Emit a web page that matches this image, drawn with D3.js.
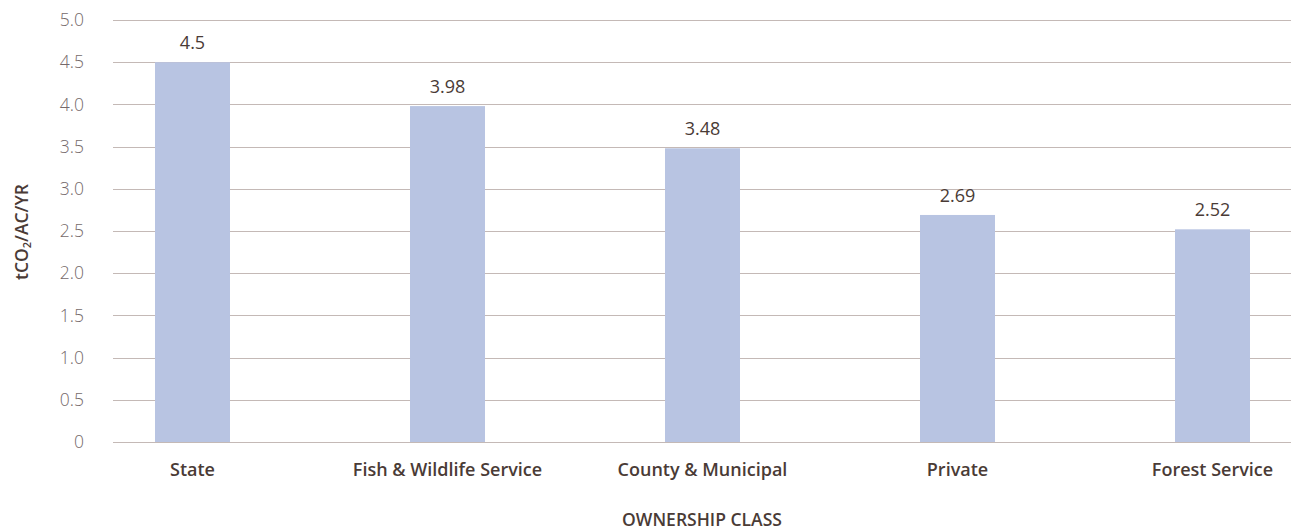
<!DOCTYPE html>
<html>
<head>
<meta charset="utf-8">
<script src="https://cdn.jsdelivr.net/npm/d3@7"></script>
<style>
  body { margin: 0; background: #fff; }
  text { font-family: "Open Sans", sans-serif; }
</style>
</head>
<body>
<svg id="main" width="1291" height="532"></svg>
<script>
const categories = ["State", "Fish & Wildlife Service", "County & Municipal", "Private", "Forest Service"];
const values = [4.5, 3.98, 3.48, 2.69, 2.52];
const valueLabels = ["4.5", "3.98", "3.48", "2.69", "2.52"];
const yTicks = [0, 0.5, 1.0, 1.5, 2.0, 2.5, 3.0, 3.5, 4.0, 4.5, 5.0];
const yTickLabels = ["0", "0.5", "1.0", "1.5", "2.0", "2.5", "3.0", "3.5", "4.0", "4.5", "5.0"];

const svg = d3.select("#main");
const gridLeft = 113, gridRight = 1291;

const x = d3.scaleBand().domain(categories).range([65, 1340]).paddingInner(0.706).paddingOuter(0.353);
const y = d3.scaleLinear().domain([0, 5]).range([442, 20]);

// gridlines
svg.append("g").selectAll("line")
  .data(yTicks)
  .join("line")
  .attr("x1", gridLeft).attr("x2", gridRight)
  .attr("y1", d => Math.round(y(d)) + 0.5).attr("y2", d => Math.round(y(d)) + 0.5)
  .attr("stroke", "#c4b9b6").attr("stroke-width", 1);

// tick labels
svg.append("g").selectAll("text")
  .data(yTicks)
  .join("text")
  .attr("x", 84).attr("y", d => y(d))
  .attr("dy", "0.35em")
  .attr("text-anchor", "end")
  .attr("font-size", 17.5)
  .attr("font-weight", 300)
  .attr("fill", "#75696a")
  .text((d, i) => yTickLabels[i]);

// bars
svg.append("g").selectAll("rect")
  .data(values)
  .join("rect")
  .attr("x", (d, i) => x(categories[i]))
  .attr("y", d => y(d))
  .attr("width", x.bandwidth())
  .attr("height", d => y(0) - y(d))
  .attr("fill", "#b8c4e2");

// value labels
svg.append("g").selectAll("text")
  .data(values)
  .join("text")
  .attr("x", (d, i) => x(categories[i]) + x.bandwidth() / 2)
  .attr("y", d => y(d) - 13)
  .attr("text-anchor", "middle")
  .attr("font-size", 18)
  .attr("fill", "#4a3b36")
  .text((d, i) => valueLabels[i]);

// category labels
svg.append("g").selectAll("text")
  .data(categories)
  .join("text")
  .attr("x", d => x(d) + x.bandwidth() / 2)
  .attr("y", 476)
  .attr("text-anchor", "middle")
  .attr("font-size", 18)
  .attr("font-weight", 600)
  .attr("fill", "#4a3b36")
  .text(d => d);

// axis titles
svg.append("text")
  .attr("x", 702).attr("y", 526)
  .attr("text-anchor", "middle")
  .attr("font-size", 17.5)
  .attr("font-weight", 600)
  .attr("fill", "#4a3b36")
  .text("OWNERSHIP CLASS");

const yt = svg.append("text")
  .attr("transform", "translate(28,232) rotate(-90)")
  .attr("text-anchor", "middle")
  .attr("font-size", 17.5)
  .attr("font-weight", 600)
  .attr("fill", "#4a3b36");
yt.append("tspan").text("tCO");
yt.append("tspan").attr("font-size", 11).attr("dy", 3).text("2");
yt.append("tspan").attr("dy", -3).text("/AC/YR");
</script>
</body>
</html>
